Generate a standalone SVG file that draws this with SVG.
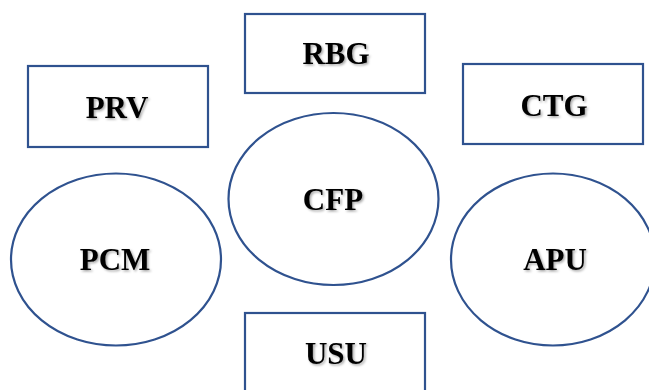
<svg xmlns="http://www.w3.org/2000/svg" width="649" height="390" viewBox="0 0 649 390">
<style>
.shape{fill:#ffffff;stroke:#2F528F;stroke-width:2.2}
.lbl{font-family:"Liberation Serif","Times New Roman",serif;font-weight:bold;font-size:31px;fill:#000;text-anchor:middle;filter:url(#sh)}
</style>
<defs>
<filter id="sh" x="-20%" y="-30%" width="140%" height="160%">
<feDropShadow dx="1.5" dy="1.5" stdDeviation="1" flood-color="#000" flood-opacity="0.35"/>
</filter>
</defs>
<rect width="649" height="390" fill="#ffffff"/>
<g id="connectors"></g>
<g id="RBG"><rect class="shape" x="245" y="14" width="180" height="79"/><text class="lbl" x="336" y="64">RBG</text></g>
<g id="PRV"><rect class="shape" x="28" y="66" width="180" height="81"/><text class="lbl" x="117" y="118">PRV</text></g>
<g id="CTG"><rect class="shape" x="463" y="64" width="180" height="80"/><text class="lbl" x="554" y="116">CTG</text></g>
<g id="USU"><rect class="shape" x="245" y="313" width="180" height="90"/><text class="lbl" x="336" y="364">USU</text></g>
<g id="CFP"><ellipse class="shape" cx="333.5" cy="199" rx="105" ry="86"/><text class="lbl" x="333" y="210">CFP</text></g>
<g id="PCM"><ellipse class="shape" cx="116" cy="259.5" rx="105" ry="86"/><text class="lbl" x="115" y="270">PCM</text></g>
<g id="APU"><ellipse class="shape" cx="553" cy="259.5" rx="102" ry="86"/><text class="lbl" x="555" y="270">APU</text></g>
</svg>
